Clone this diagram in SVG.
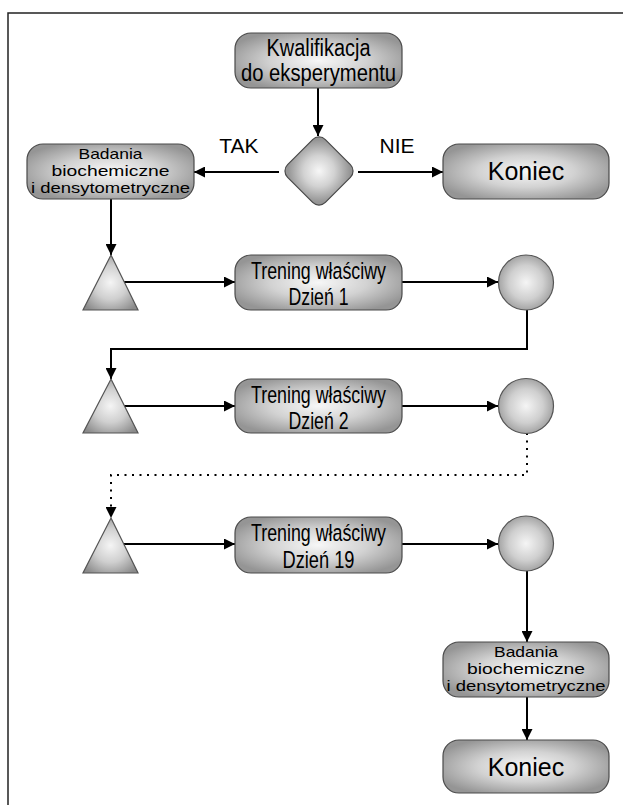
<svg xmlns="http://www.w3.org/2000/svg" width="623" height="805" viewBox="0 0 623 805">
<defs>
<radialGradient id="g" cx="50%" cy="50%" r="58%">
<stop offset="0" stop-color="#f7f7f7"/>
<stop offset="0.5" stop-color="#d2d2d2"/>
<stop offset="1" stop-color="#959595"/>
</radialGradient>
<radialGradient id="gt" cx="50%" cy="50%" r="62%">
<stop offset="0" stop-color="#f5f5f5"/>
<stop offset="0.5" stop-color="#cfcfcf"/>
<stop offset="1" stop-color="#8a8a8a"/>
</radialGradient>
<marker id="ah" viewBox="0 0 10 10" refX="10" refY="5" markerWidth="11" markerHeight="11" markerUnits="userSpaceOnUse" orient="auto">
<path d="M0,0 L10,5 L0,10 z" fill="#000"/>
</marker>
<style>
.box{fill:url(#g);stroke:#4a4a4a;stroke-width:1.2}
.tri{fill:url(#gt);stroke:#555;stroke-width:1.2}
.c{fill:none;stroke:#000;stroke-width:2;marker-end:url(#ah)}
.dot{stroke-dasharray:2 5.5}
text{font-family:"Liberation Sans",Arial,sans-serif;fill:#000;text-anchor:middle}
.t22{font-size:23px}
.t26{font-size:24.5px}
.t24{font-size:25px}
.t15{font-size:15px}
.t20{font-size:21px}
</style>
</defs>
<rect x="0" y="0" width="623" height="805" fill="#fff"/>
<path d="M8,805 V13 H623" fill="none" stroke="#222" stroke-width="1.5"/>

<g id="connectors">
<path class="c" d="M318,88 V136"/>
<path class="c" d="M279,172 H194"/>
<path class="c" d="M358,172 H443"/>
<path class="c" d="M111,199 V255"/>
<path class="c" d="M124,282 H235"/>
<path class="c" d="M402,282 H498"/>
<path class="c" d="M527,310 V349 H111 V379"/>
<path class="c" d="M124,406 H235"/>
<path class="c" d="M402,406 H498"/>
<path class="c dot" d="M527,433 V475 H111 V518"/>
<path class="c" d="M124,544 H235"/>
<path class="c" d="M402,544 H498"/>
<path class="c" d="M527,571 V642"/>
<path class="c" d="M527,697 V740"/>
</g>

<g id="kwalifikacja">
<rect class="box" x="235" y="33" width="167" height="55" rx="16"/>
<text class="t22" x="318.5" y="56" textLength="104" lengthAdjust="spacingAndGlyphs">Kwalifikacja</text>
<text class="t22" x="318.5" y="81" textLength="155" lengthAdjust="spacingAndGlyphs">do eksperymentu</text>
</g>

<g id="decyzja">
<rect class="box" x="-26.7" y="-26.7" width="53.4" height="53.4" rx="9" transform="translate(319,171) rotate(45)"/>
</g>
<text class="t20" x="239" y="153">TAK</text>
<text class="t20" x="397" y="153">NIE</text>

<g id="badania1">
<rect class="box" x="27" y="144" width="167" height="55" rx="16"/>
<text class="t15" x="110.5" y="159" textLength="64" lengthAdjust="spacingAndGlyphs">Badania</text>
<text class="t15" x="110.5" y="176" textLength="118" lengthAdjust="spacingAndGlyphs">biochemiczne</text>
<text class="t15" x="110.5" y="193" textLength="159" lengthAdjust="spacingAndGlyphs">i densytometryczne</text>
</g>

<g id="koniec1">
<rect class="box" x="443" y="144" width="166" height="55" rx="16"/>
<text class="t24" x="526" y="180">Koniec</text>
</g>

<g id="tri1"><path class="tri" d="M111,255 L138,310 L83,310 Z"/></g>
<g id="trening1">
<rect class="box" x="235" y="255" width="167" height="55" rx="16"/>
<text class="t26" x="318.5" y="279" textLength="135" lengthAdjust="spacingAndGlyphs">Trening właściwy</text>
<text class="t26" x="318.5" y="305" textLength="60" lengthAdjust="spacingAndGlyphs">Dzień 1</text>
</g>
<g id="koło1"><circle class="tri" cx="526" cy="282.5" r="27.5"/></g>

<g id="tri2"><path class="tri" d="M111,379 L138,433 L83,433 Z"/></g>
<g id="trening2">
<rect class="box" x="235" y="379" width="167" height="54" rx="16"/>
<text class="t26" x="318.5" y="403" textLength="135" lengthAdjust="spacingAndGlyphs">Trening właściwy</text>
<text class="t26" x="318.5" y="429" textLength="60" lengthAdjust="spacingAndGlyphs">Dzień 2</text>
</g>
<g id="koło2"><circle class="tri" cx="526" cy="406" r="27.5"/></g>

<g id="tri3"><path class="tri" d="M111,518 L138,573 L83,573 Z"/></g>
<g id="trening3">
<rect class="box" x="235" y="517" width="167" height="56" rx="16"/>
<text class="t26" x="318.5" y="541" textLength="135" lengthAdjust="spacingAndGlyphs">Trening właściwy</text>
<text class="t26" x="318.5" y="568" textLength="72" lengthAdjust="spacingAndGlyphs">Dzień 19</text>
</g>
<g id="koło3"><circle class="tri" cx="526" cy="543.5" r="27.5"/></g>

<g id="badania2">
<rect class="box" x="443" y="642" width="166" height="55" rx="16"/>
<text class="t15" x="526" y="657" textLength="64" lengthAdjust="spacingAndGlyphs">Badania</text>
<text class="t15" x="526" y="674" textLength="118" lengthAdjust="spacingAndGlyphs">biochemiczne</text>
<text class="t15" x="526" y="691" textLength="159" lengthAdjust="spacingAndGlyphs">i densytometryczne</text>
</g>

<g id="koniec2">
<rect class="box" x="443" y="740" width="166" height="53" rx="16"/>
<text class="t24" x="526" y="776">Koniec</text>
</g>
</svg>
